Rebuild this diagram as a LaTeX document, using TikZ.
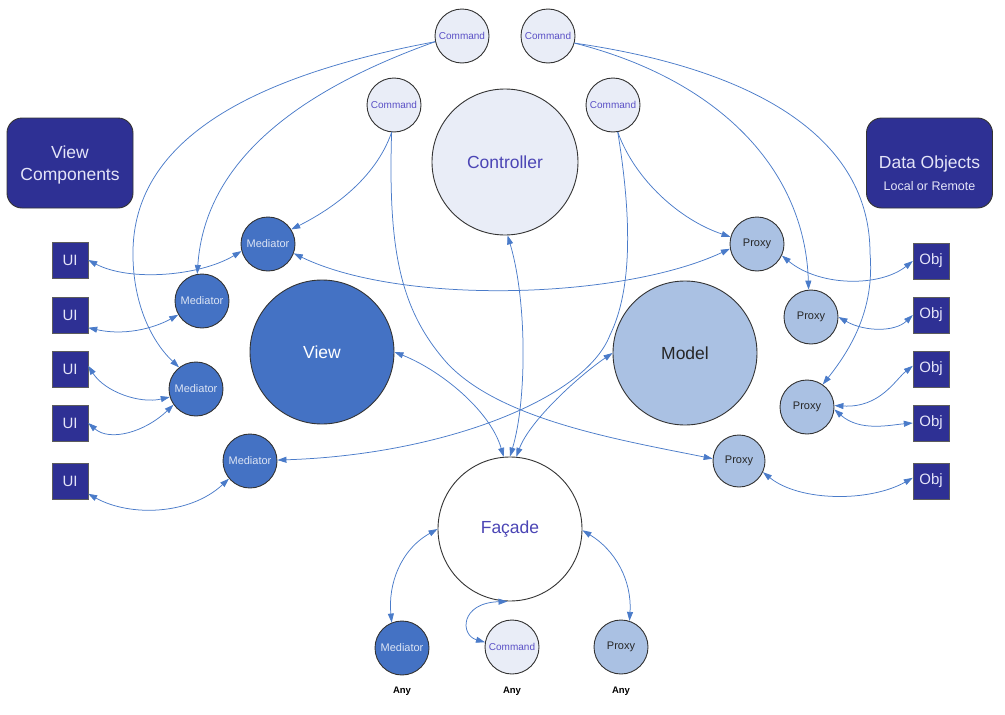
\documentclass[tikz,border=0pt]{standalone}
\usepackage{fontspec}
\setmainfont{Liberation Sans}
\usetikzlibrary{arrows.meta}
\definecolor{arr}{HTML}{4A7BC9}
\definecolor{cmdfill}{HTML}{E9EDF7}
\definecolor{cmdtext}{HTML}{5A50C6}
\definecolor{bigtext}{HTML}{4B45B5}
\definecolor{medfill}{HTML}{4472C4}
\definecolor{medtext}{HTML}{DCE4F4}
\definecolor{proxfill}{HTML}{AAC1E3}
\definecolor{boxfill}{HTML}{2E3094}
\definecolor{boxtext}{HTML}{E4E4F8}
\definecolor{edgec}{HTML}{333333}
\tikzset{
  >={Triangle[length=9pt,width=6pt]},
  circ/.style={circle, draw=edgec, line width=0.9pt, inner sep=0pt},
  cmd/.style={circ, fill=cmdfill, text=cmdtext, minimum size=54pt, font=\fontsize{10}{12}\selectfont},
  med/.style={circ, fill=medfill, text=medtext, minimum size=54pt, font=\fontsize{11}{13}\selectfont},
  prox/.style={circ, fill=proxfill, text=black!85, minimum size=54pt, font=\fontsize{11}{13}\selectfont},
  bigc/.style={circ, minimum size=144pt, font=\fontsize{17.5}{20}\selectfont},
  sq/.style={draw=edgec!80, fill=boxfill, text=boxtext, minimum size=36pt, inner sep=0pt, font=\fontsize{15}{17}\selectfont},
  titlebox/.style={draw=edgec, line width=0.9pt, fill=boxfill, text=boxtext, rounded corners=15pt, minimum width=126pt, minimum height=90pt, align=center, inner sep=0pt},
  lnk/.style={draw=arr, line width=0.75pt},
  anylbl/.style={font=\bfseries\fontsize{9.5}{11}\selectfont, text=black}
}
\begin{document}
\begin{tikzpicture}[x=1pt,y=-1pt]
\useasboundingbox (0,0) rectangle (1005,715);
% title boxes
\node[titlebox] (vc) at (70,163) {};
\node[text=boxtext, align=center, font=\fontsize{17.5}{22}\selectfont] (vct) at (70,164.5) {View\\Components};
\node[titlebox] (dob) at (929.5,163) {};
\node[text=boxtext, font=\fontsize{17.5}{20}\selectfont] (dot) at (929.5,163.5) {Data Objects};
\node[text=boxtext, font=\fontsize{12.5}{15}\selectfont] (dos) at (929.5,186.5) {Local or Remote};
% commands
\node[cmd] (cA) at (462,36) {Command};
\node[cmd] (cB) at (548,36) {Command};
\node[cmd] (cC) at (394,105) {Command};
\node[cmd] (cD) at (613,105) {Command};
\node[bigc, fill=cmdfill, text=bigtext, minimum size=146pt] (ctrl) at (505,162) {Controller};
% view side
\node[bigc, fill=medfill, text=white] (view) at (322,352) {View};
\node[med] (m1) at (268,244) {Mediator};
\node[med] (m2) at (202,301) {Mediator};
\node[med] (m3) at (196,389) {Mediator};
\node[med] (m4) at (250,461) {Mediator};
% model side
\node[bigc, fill=proxfill, text=black!85] (model) at (685,353) {Model};
\node[prox] (p1) at (757,244) {Proxy};
\node[prox] (p2) at (811,317) {Proxy};
\node[prox] (p3) at (807,407) {Proxy};
\node[prox, minimum size=52pt] (p4) at (739,461) {Proxy};
% facade
\node[bigc, fill=white, text=bigtext] (fac) at (510,529) {Façade};
\node[med] (bm) at (402,648) {Mediator};
\node[cmd] (bc) at (512,647) {Command};
\node[prox] (bp) at (621,647) {Proxy};
\node[anylbl] (a1) at (402,691) {Any};
\node[anylbl] (a2) at (512,691) {Any};
\node[anylbl] (a3) at (621,691) {Any};
% UI and Obj boxes
\node[sq] (u1) at (70,260) {UI};
\node[sq] (u2) at (70,315) {UI};
\node[sq] (u3) at (70,369) {UI};
\node[sq] (u4) at (70,423) {UI};
\node[sq] (u5) at (70,481) {UI};
\node[sq] (o1) at (931,261) {Obj};
\node[sq] (o2) at (931,315) {Obj};
\node[sq] (o3) at (931,369) {Obj};
\node[sq] (o4) at (931,423) {Obj};
\node[sq] (o5) at (931,481) {Obj};
% command connectors
\draw[lnk,->] (cA.192) .. controls (300,90) and (205,160) .. (m2.100);
\draw[lnk,->] (cA.192) .. controls (230,80) and (135,150) .. (133,250) .. controls (132,300) and (150,340) .. (m3.128);
\draw[lnk,->] (cC.-95) .. controls (375,180) and (330,210) .. (m1.32);
\draw[lnk,->] (cC.-95) .. controls (388,250) and (400,310) .. (447,363) .. controls (500,420) and (620,440) .. (p4.175);
\draw[lnk,->] (cD.-80) .. controls (635,180) and (680,220) .. (p1.165);
\draw[lnk,->] (cD.-80) .. controls (632,220) and (632,290) .. (610,335) .. controls (585,400) and (440,455) .. (m4.2);
\draw[lnk,->] (cB.-15) .. controls (720,80) and (805,170) .. (p2.95);
\draw[lnk,->] (cB.-15) .. controls (760,70) and (870,140) .. (870,253) .. controls (875,310) and (850,350) .. (p3.55);
% UI links
\draw[lnk,<->] (u1.east) .. controls (130,282) and (200,276) .. (m1.195);
\draw[lnk,<->] (u2.-35) .. controls (130,337) and (160,325) .. (m2.210);
\draw[lnk,<->] (u3.10) .. controls (105,392) and (140,404) .. (m3.197);
\draw[lnk,<->] (u4.east) .. controls (110,442) and (145,432) .. (m3.215);
\draw[lnk,<->] (u5.-35) .. controls (130,517) and (190,515) .. (m4.220);
% Obj links
\draw[lnk,<->] (p1.-25) .. controls (820,287) and (880,287) .. (o1.west);
\draw[lnk,<->] (p2.east) .. controls (865,332) and (895,332) .. (o2.west);
\draw[lnk,<->] (p3.3) .. controls (880,408) and (895,380) .. (o3.170);
\draw[lnk,<->] (p3.-5) .. controls (860,432) and (890,425) .. (o4.west);
\draw[lnk,<->] (p4.-25) .. controls (800,502) and (870,502) .. (o5.170);
% central links
\draw[lnk,<->] (m1.-20) .. controls (400,305) and (620,300) .. (p1.190);
\draw[lnk,<->] (ctrl.-88) .. controls (527,300) and (527,400) .. (fac.90);
\draw[lnk,<->] (view.east) .. controls (440,370) and (490,410) .. (fac.95);
\draw[lnk,<->] (model.west) .. controls (580,375) and (530,420) .. (fac.85);
% bottom links
\draw[lnk,<->] (fac.180) .. controls (400,550) and (388,585) .. (bm.112);
\draw[lnk,<->] (fac.-92) .. controls (460,603) and (460,635) .. (bc.170);
\draw[lnk,<->] (fac.-1) .. controls (615,550) and (632,580) .. (bp.72);
\end{tikzpicture}
\end{document}
